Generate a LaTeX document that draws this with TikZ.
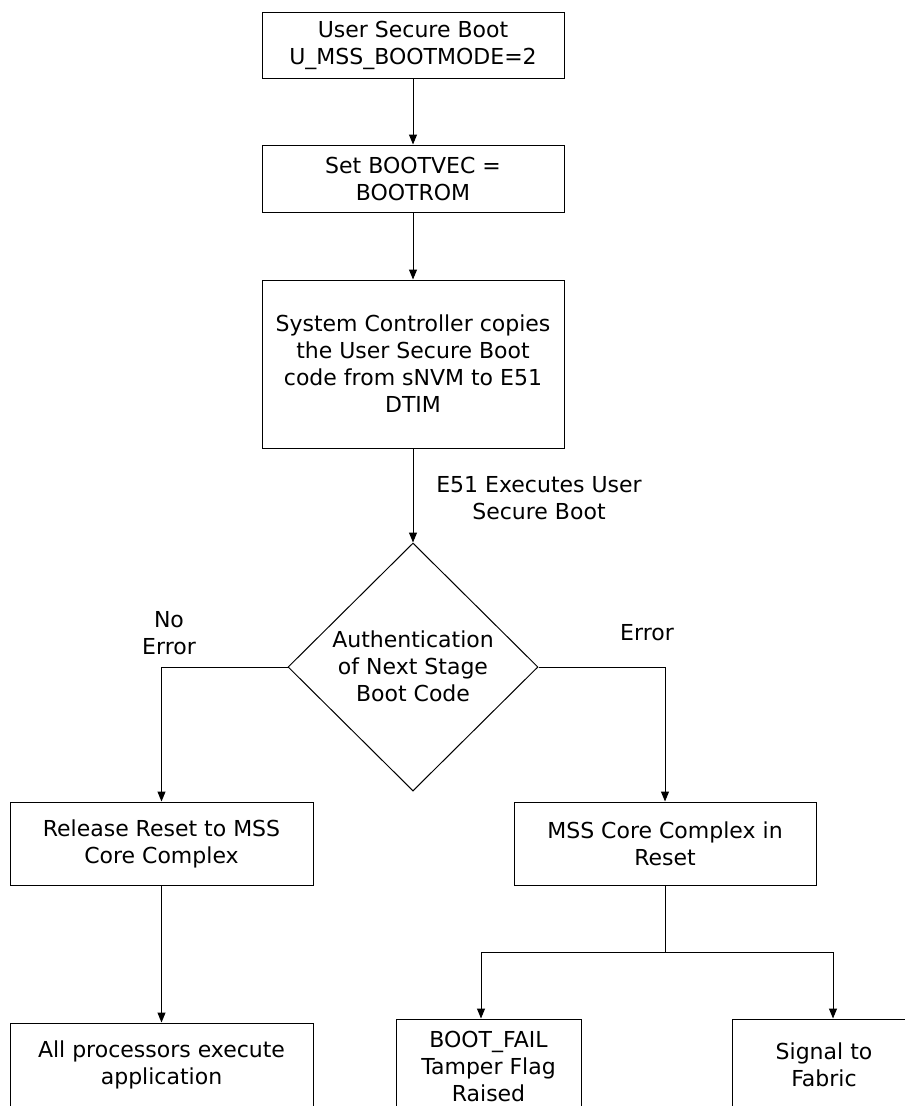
\documentclass[tikz,border=0pt]{standalone}
\usepackage{fontspec}
\setmainfont{DejaVu Sans}
\usetikzlibrary{arrows.meta,shapes.geometric}
\begin{document}
\begin{tikzpicture}[x=1pt,y=1pt,
  every node/.style={font=\fontsize{22}{27}\selectfont, text=black},
  box/.style={draw, line width=1pt, inner sep=0pt, align=center},
  lbl/.style={align=center, inner sep=0pt},
  conn/.style={line width=1pt},
  arr/.style={line width=1pt, -{Triangle[length=10pt,width=8pt]}}]
\useasboundingbox (0,0) rectangle (905,-1106);
\clip (0,0) rectangle (905,-1106);
\fill[white] (0,0) rectangle (905,-1106);
% top chain
\node[box, minimum width=302pt, minimum height=66pt] (b1) at (413,-45) {User Secure Boot\\U\_MSS\_BOOTMODE=2};
\node[box, minimum width=302pt, minimum height=67pt] (b2) at (413,-178.5) {Set BOOTVEC =\\BOOTROM};
\node[box, minimum width=302pt, minimum height=168pt] (b3) at (413,-364) {System Controller copies\\the User Secure Boot\\code from sNVM to E51\\DTIM};
% decision
\node[diamond, draw, line width=1pt, inner sep=0pt, minimum width=250pt, minimum height=248pt] (dec) at (413,-667) {};
\node[lbl] (dectext) at (413,-666) {Authentication\\of Next Stage\\Boot Code};
\node[lbl] (e51) at (539,-498) {E51 Executes User\\Secure Boot};
\node[lbl] (noerr) at (169,-633) {No\\Error};
\node[lbl] (err) at (647,-633) {Error};
% second row
\node[box, minimum width=303pt, minimum height=83pt] (rel) at (161.5,-843.5) {Release Reset to MSS\\Core Complex};
\node[box, minimum width=302pt, minimum height=83pt] (mss) at (665,-843.5) {MSS Core Complex in\\Reset};
% bottom row
\node[box, minimum width=303pt, minimum height=84pt] (allp) at (161.5,-1065) {All processors execute\\application};
\node[box, minimum width=185pt, minimum height=94pt] (bf) at (488.5,-1066) {BOOT\_FAIL\\Tamper Flag\\Raised};
\node[box, minimum width=184pt, minimum height=92pt] (sig) at (824,-1065) {Signal to\\Fabric};
% coordinates
\coordinate (split) at (665,-952);
\coordinate (sl) at (481,-952);
\coordinate (sr) at (833,-952);
% connectors
\draw[arr] (b1.south) -- (b2.north);
\draw[arr] (b2.south) -- (b3.north);
\draw[arr] (b3.south) -- (dec.north);
\draw[arr] (dec.west) -| (rel.north);
\draw[arr] (dec.east) -| (mss.north);
\draw[arr] (rel.south) -- (allp.north);
\draw[conn] (mss.south) -- (split);
\draw[conn] (sl) -- (sr);
\draw[arr] (sl) -- (bf.north -| sl);
\draw[arr] (sr) -- (sig.north -| sr);
\end{tikzpicture}
\end{document}
